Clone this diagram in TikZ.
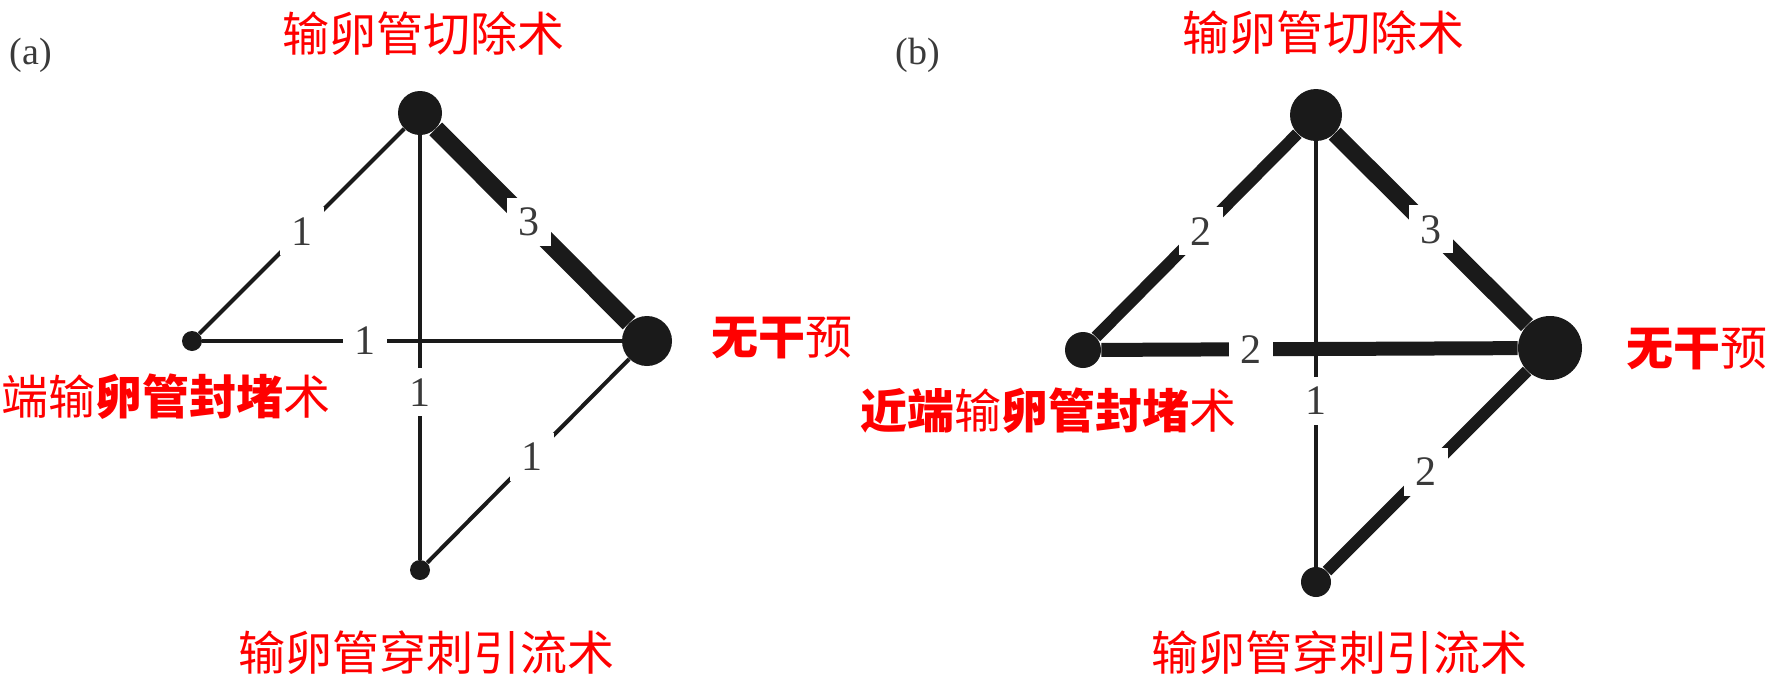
\documentclass[tikz,border=0pt]{standalone}
\usepackage{fontspec}
\newfontfamily\cjk{Noto Sans CJK SC}
\newfontfamily\numfont{Liberation Serif}
\definecolor{ink}{HTML}{1A1A1A}
\definecolor{numgray}{HTML}{3A3A3A}
\definecolor{tagred}{HTML}{FF0000}
\tikzset{
  vtx/.style={circle, fill=ink, inner sep=0pt},
  wlab/.style={fill=white, inner sep=0pt, minimum width=22pt, minimum height=24pt,
    text=numgray, font=\numfont\fontsize{21pt}{24pt}\selectfont},
  lab/.style={text=tagred, inner sep=0pt, font=\cjk\fontsize{23.5pt}{28pt}\selectfont},
  panel/.style={text=numgray, inner sep=0pt, font=\numfont\fontsize{19pt}{22pt}\selectfont},
  thin/.style={draw=ink, line width=2pt},
  vline/.style={draw=ink, line width=1.6pt},
}
\begin{document}
\begin{tikzpicture}[x=0.5pt,y=-0.5pt]
\useasboundingbox (0,0) rectangle (1774,675);
% ---------------- panel (a) ----------------
\node[panel] (pa) at (31,55) {(a)};
\node[vtx, minimum size=22pt] (aT) at (420,113) {};
\node[vtx, minimum size=10pt] (aL) at (192,341) {};
\node[vtx, minimum size=25pt] (aR) at (647,341) {};
\node[vtx, minimum size=10pt] (aB) at (420,570) {};
\draw[thin] (aL) -- node[wlab, pos=0.5] (aTL) {1} (aT);
\draw[draw=ink, line width=9pt] (aT) -- node[wlab, pos=0.48] (aTR) {3} (aR);
\draw[thin] (aL) -- node[wlab, pos=0.387] (aLR) {1} (aR);
\draw[vline] (aT) -- node[wlab, pos=0.606] (aTB) {1} (aB);
\draw[thin] (aR) -- node[wlab, pos=0.48] (aRB) {1} (aB);
\node[lab] (aTop) at (423,34) {输卵管切除术};
\node[lab, anchor=west] (aRt) at (711,338) {{\bfseries 无干}预};
\node[lab, anchor=west] (aLf) at (1,397) {端输{\bfseries 卵管封堵}术};
\node[lab] (aBot) at (426,653) {输卵管穿刺引流术};
% ---------------- panel (b) ----------------
\node[panel] (pb) at (918,55) {(b)};
\node[vtx, minimum size=26pt] (bT) at (1316,115) {};
\node[vtx, minimum size=18pt] (bL) at (1083,350) {};
\node[vtx, minimum size=32pt] (bR) at (1550,348) {};
\node[vtx, minimum size=15pt] (bB) at (1316,582) {};
\draw[draw=ink, line width=6pt] (bL) -- node[wlab, pos=0.52] (bTL) {2} (bT);
\draw[draw=ink, line width=8.5pt] (bT) -- node[wlab, pos=0.5] (bTR) {3} (bR);
\draw[draw=ink, line width=7pt] (bL) -- node[wlab, pos=0.36] (bLR) {2} (bR);
\draw[vline] (bT) -- node[wlab, pos=0.61] (bTB) {1} (bB);
\draw[draw=ink, line width=6pt] (bR) -- node[wlab, pos=0.504] (bRB) {2} (bB);
\node[lab] (bTop) at (1323,33) {输卵管切除术};
\node[lab, anchor=west] (bRt) at (1626,349) {{\bfseries 无干}预};
\node[lab, anchor=west] (bLf) at (860,411) {{\bfseries 近端}输{\bfseries 卵管封堵}术};
\node[lab] (bBot) at (1339,653) {输卵管穿刺引流术};
\end{tikzpicture}
\end{document}
